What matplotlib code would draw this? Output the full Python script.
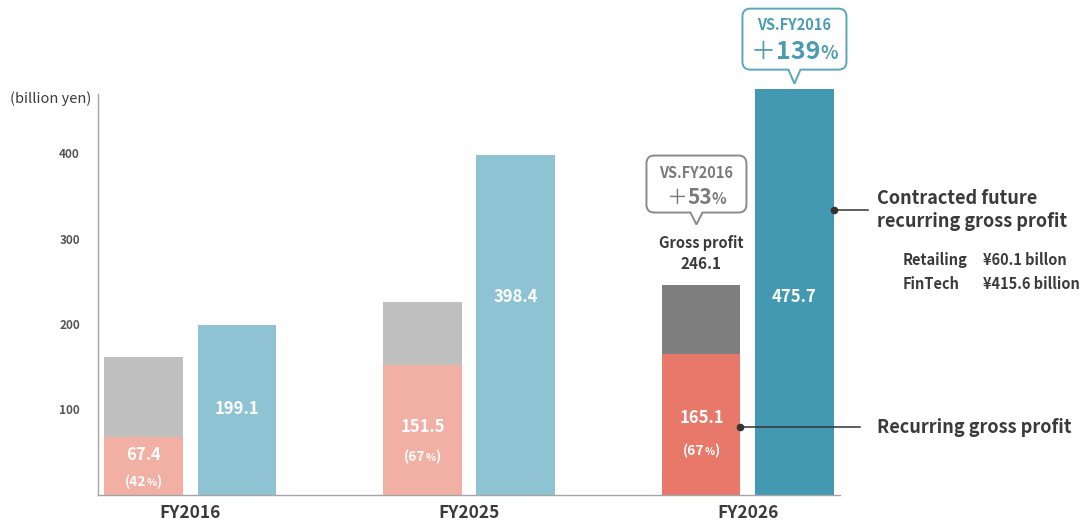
import matplotlib
matplotlib.use("Agg")
import matplotlib.pyplot as plt
import numpy as np
from matplotlib.path import Path
from matplotlib.patches import PathPatch
from matplotlib.transforms import IdentityTransform

plt.rcParams["font.family"] = ["Noto Sans CJK JP", "DejaVu Sans"]

# ---- data (billion yen) ----
years = ["FY2016", "FY2025", "FY2026"]
gross_profit = [160.6, 226.1, 246.1]
recurring = [67.4, 151.5, 165.1]
recurring_share = [42, 67, 67]
contracted = [199.1, 398.4, 475.7]
growth_gross = 53
growth_contracted = 139
segment_names = ["Retailing", "FinTech"]
segment_values = ["¥60.1 billon", "¥415.6 billion"]
y_ticks = [100, 200, 300, 400]

# ---- styling ----
recurring_colors = ["#F2AFA3", "#F2AFA3", "#E8796A"]
other_colors = ["#BFBFBF", "#BFBFBF", "#7F7F7F"]
contracted_colors = ["#8EC3D3", "#8EC3D3", "#4499B2"]
TEXT = "#3A3A3A"
TEAL_TXT = "#4A9BB3"
GRAY_TXT = "#7A7A7A"
AXIS = "#A5A5A5"

W, H = 1091, 523
fig = plt.figure(figsize=(W / 100, H / 100), dpi=100)
ax = fig.add_axes([98 / W, 28.5 / H, 742 / W, 401 / H])

x = np.arange(len(years))
bw = 0.28
off = 0.1667

ax.bar(x - off, recurring, bw, color=recurring_colors, zorder=2)
ax.bar(x - off, np.array(gross_profit) - np.array(recurring), bw,
       bottom=recurring, color=other_colors, zorder=2)
ax.bar(x + off, contracted, bw, color=contracted_colors, zorder=2, clip_on=False)

ax.set_xlim(-0.33, 2.33)
ax.set_ylim(0, 470)
ax.set_yticks(y_ticks)
ax.set_yticklabels([str(v) for v in y_ticks], fontsize=8.5,
                   color="#555555", fontweight="bold")
ax.set_xticks(x)
ax.set_xticklabels(years, fontsize=12.5, fontweight="bold", color=TEXT)
ax.tick_params(axis="y", length=0, pad=13)
ax.tick_params(axis="x", length=0, pad=7)
for s in ("top", "right"):
    ax.spines[s].set_visible(False)
for s in ("left", "bottom"):
    ax.spines[s].set_color(AXIS)
    ax.spines[s].set_linewidth(1.0)

ax.annotate("(billion yen)", xy=(0, 1), xycoords="axes fraction",
            xytext=(-7, -5), textcoords="offset pixels",
            ha="right", va="center", fontsize=10.5, color=TEXT)

renderer = fig.canvas.get_renderer()
ident = IdentityTransform()


def to_px(xd, yd):
    return ax.transData.transform((xd, yd))


def rich_text(cx, cy, pieces, cap_pt):
    """Draw text pieces side by side, centred on (cx, cy) in pixels."""
    base = cy - 0.36 * cap_pt * 100 / 72
    arts, widths = [], []
    for s, kw in pieces:
        t = fig.text(0, base, s, transform=ident, ha="left", va="baseline",
                     zorder=7, **kw)
        widths.append(t.get_window_extent(renderer).width)
        arts.append(t)
    cur = cx - sum(widths) / 2
    for t, w in zip(arts, widths):
        t.set_position((cur, base))
        cur += w


def callout(tx, ty, w, h, notch, r, color):
    """Rounded box with a downward pointer whose tip sits at (tx, ty)."""
    bottom = ty + notch
    top = bottom + h
    left, right = tx - w / 2, tx + w / 2
    hw = 6
    verts = [(tx - hw, bottom), (left + r, bottom),
             (left, bottom), (left, bottom + r),
             (left, top - r),
             (left, top), (left + r, top),
             (right - r, top),
             (right, top), (right, top - r),
             (right, bottom + r),
             (right, bottom), (right - r, bottom),
             (tx + hw, bottom), (tx, ty), (tx - hw, bottom)]
    codes = [Path.MOVETO, Path.LINETO,
             Path.CURVE3, Path.CURVE3,
             Path.LINETO,
             Path.CURVE3, Path.CURVE3,
             Path.LINETO,
             Path.CURVE3, Path.CURVE3,
             Path.LINETO,
             Path.CURVE3, Path.CURVE3,
             Path.LINETO, Path.LINETO, Path.CLOSEPOLY]
    patch = PathPatch(Path(verts, codes), facecolor="white", edgecolor=color,
                      linewidth=1.4, transform=ident, zorder=4)
    fig.add_artist(patch)
    return top


# ---- labels inside bars ----
num_y = [46, 79, 90]
pct_y = [16, 45, 52]
cont_y = [100, 231, 232]
for i in range(len(years)):
    ax.text(x[i] - off, num_y[i], f"{recurring[i]:.1f}", ha="center", va="center",
            color="white", fontsize=12, fontweight="bold", zorder=3)
    cx, cy = to_px(x[i] - off, pct_y[i])
    rich_text(cx, cy, [("(" + str(recurring_share[i]),
                        dict(color="white", fontsize=10, fontweight="bold")),
                       ("%", dict(color="white", fontsize=7.5, fontweight="bold")),
                       (")", dict(color="white", fontsize=10, fontweight="bold"))], 10)
    ax.text(x[i] + off, cont_y[i], f"{contracted[i]:.1f}", ha="center", va="center",
            color="white", fontsize=12, fontweight="bold", zorder=3)

# ---- FY2026 gross profit label and growth callout ----
gx, gtop = to_px(x[2] - off, gross_profit[2])
fig.text(gx, gtop + 21, f"{gross_profit[2]:.1f}", transform=ident, ha="center",
         va="center", fontsize=11, fontweight="bold", color=TEXT)
fig.text(gx, gtop + 42, "Gross profit", transform=ident, ha="center",
         va="center", fontsize=10.5, fontweight="bold", color=TEXT)
g_tip_x = gx - 5
g_box_top = callout(g_tip_x, gtop + 60, 100, 57, 12, 8, "#8A8A8A")
fig.text(g_tip_x, g_box_top - 17, "VS.FY2016", transform=ident, ha="center",
         va="center", fontsize=10.5, fontweight="bold", color=GRAY_TXT, zorder=7)
rich_text(g_tip_x, g_box_top - 41,
          [("＋", dict(fontsize=15, fontweight="normal", color=GRAY_TXT)),
           (str(growth_gross), dict(fontsize=15, fontweight="bold", color=GRAY_TXT)),
           ("%", dict(fontsize=11, fontweight="bold", color=GRAY_TXT))], 15)

# ---- contracted growth callout ----
cx2, ctop = to_px(x[2] + off, contracted[2])
c_box_top = callout(cx2, ctop + 5, 104, 61, 14, 8, "#5AA6BC")
fig.text(cx2, c_box_top - 16, "VS.FY2016", transform=ident, ha="center",
         va="center", fontsize=10.5, fontweight="bold", color=TEAL_TXT, zorder=7)
rich_text(cx2, c_box_top - 41,
          [("＋", dict(fontsize=18, fontweight="normal", color=TEAL_TXT)),
           (str(growth_contracted), dict(fontsize=18, fontweight="bold", color=TEAL_TXT)),
           ("%", dict(fontsize=13, fontweight="bold", color=TEAL_TXT))], 18)

# ---- leader lines and side labels ----
teal_right = x[2] + off + bw / 2
dx, dy = to_px(teal_right, 333.5)
text_x = dx + 43
ax.plot([teal_right], [333.5], "o", color="#333333", ms=4.5, clip_on=False, zorder=6)
fig.add_artist(plt.Line2D([dx, dx + 34], [dy, dy], color="#333333", lw=1.1,
                          transform=ident))
fig.text(text_x, dy, "Contracted future\nrecurring gross profit", transform=ident,
         ha="left", va="center", fontsize=13, fontweight="bold", color=TEXT,
         linespacing=1.25)
for k, (name, val) in enumerate(zip(segment_names, segment_values)):
    yy = dy - 50 - 24 * k
    fig.text(text_x + 26, yy, name, transform=ident, ha="left", va="center",
             fontsize=10.5, fontweight="bold", color=TEXT)
    fig.text(text_x + 106, yy, val, transform=ident, ha="left", va="center",
             fontsize=10.5, fontweight="bold", color=TEXT)

sal_right = x[2] - off + bw / 2
rx, ry = to_px(sal_right, 79)
ax.plot([sal_right], [79], "o", color="#333333", ms=4.5, clip_on=False, zorder=6)
fig.add_artist(plt.Line2D([rx, text_x - 17], [ry, ry], color="#333333", lw=1.1,
                          transform=ident))
fig.text(text_x, ry, "Recurring gross profit", transform=ident, ha="left",
         va="center", fontsize=13, fontweight="bold", color=TEXT)

fig.savefig("out.png", dpi=100)
